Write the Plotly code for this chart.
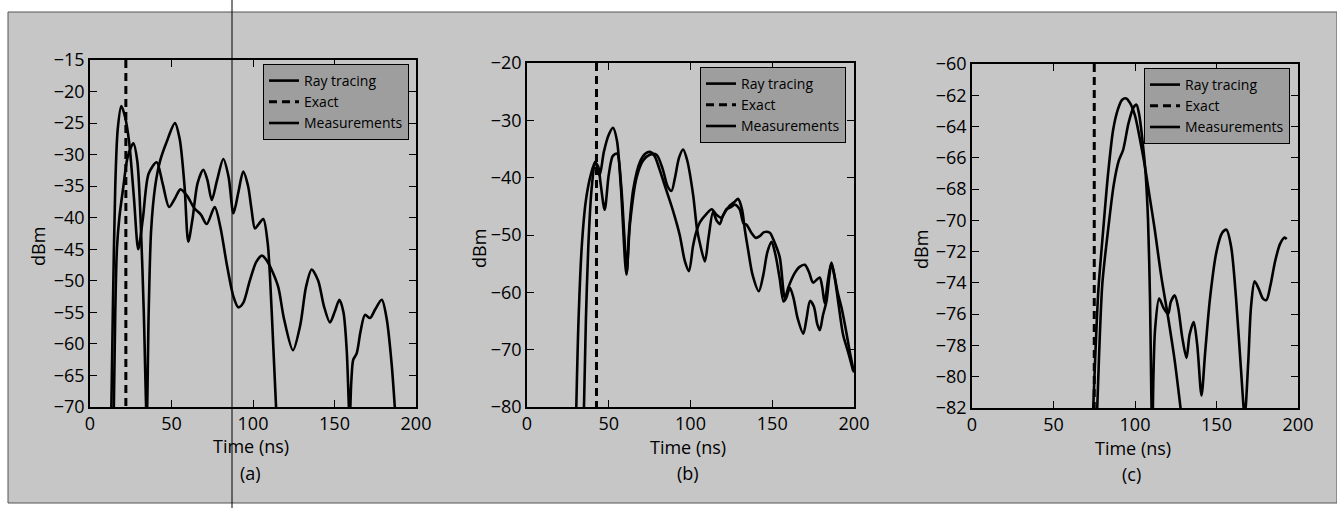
import plotly.graph_objects as go

# ---------------- data ----------------
# Panel (a)
a_ray_t = [13.0, 14.0, 15.5, 17.0, 19.2, 21.5, 24.0, 27.0, 29.6, 32.5, 36.0, 40.9, 44.5, 48.5, 52.0,
           55.5, 59.5, 64.0, 68.0, 71.6, 76.5, 80.0, 84.0, 88.0, 91.0, 94.0, 98.0, 102.0, 105.5, 108.5,
           111.5, 115.5, 119.0, 124.5, 129.0, 132.5, 136.0, 140.0, 143.5, 147.2, 150.0, 153.0, 155.5,
           157.5, 159.3, 160.3, 161.5, 163.6, 166.0, 168.7, 171.8, 175.0, 179.0, 182.0, 185.0, 187.5]
a_ray_v = [-72, -55, -35, -26, -22.3, -24, -28, -37, -45, -40, -33, -31.2, -34.5, -38.3, -37,
           -35.5, -36.5, -38.5, -39.5, -41, -38.3, -41.5, -47.5, -52.5, -54.2, -53.5, -50, -47, -46, -46.8,
           -48.3, -51, -56, -61, -57, -51, -48.2, -50, -54, -56.6, -55, -53, -55,
           -61, -72, -66, -62.5, -61.5, -58, -55.4, -55.9, -54.5, -53, -56, -63, -72]
a_meas_t = [14.5, 15.5, 16.5, 18.0, 20.5, 23.0, 26.6, 29.0, 31.0, 33.0, 34.8, 36.0, 37.5, 40.0, 43.0,
            47.0, 52.1, 55.0, 58.0, 60.3, 63.0, 66.0, 69.5, 72.0, 74.7, 78.0, 81.8, 85.0, 88.0, 91.0,
            94.0, 97.0, 99.0, 101.2, 103.5, 106.3, 109.0, 111.5, 114.5]
a_meas_v = [-72, -55, -45, -40, -35, -30.5, -28.2, -31, -40, -55, -72, -55, -42, -35, -31,
            -28, -25, -27.5, -35, -43.8, -40, -34.5, -32.4, -34, -37.2, -34, -30.7, -33.5, -39.3, -36,
            -32.7, -35, -38.5, -41.7, -41, -40.2, -44, -55, -72]
a_exact = 22

# Panel (b)
b_ray_t = [30.0, 31.5, 33.5, 36.0, 39.0, 41.8, 44.4, 47.0, 50.0, 52.6, 55.0, 57.5, 60.8, 63.0, 67.0,
           71.0, 75.0, 79.2, 83.0, 86.0, 88.4, 90.5, 93.0, 95.5, 98.0, 101.6, 104.0, 105.7, 108.8, 111.0,
           113.8, 116.0, 117.9, 120.0, 124.0, 127.0, 129.1, 131.5, 133.2, 135.3, 138.0, 141.8, 144.5,
           147.0, 149.6, 152.0, 154.5, 156.9, 158.5, 160.8, 163.0, 165.5, 169.0, 171.0, 173.1, 175.5,
           177.5, 179.1, 181.0, 183.2, 185.0, 186.2, 188.0, 190.0, 192.4, 195.0, 197.5, 200.0]
b_ray_v = [-82, -65, -52, -44, -39.5, -37.2, -39.6, -35.5, -32.5, -31.3, -33.5, -42, -56.9, -48, -40,
           -37, -36, -36, -38.5, -41.5, -42.3, -40, -36.5, -35.1, -37, -43, -49, -51.4, -54.6, -50.5,
           -46, -47.5, -48.1, -46.5, -44.9, -44.2, -43.7, -45.5, -49, -52.7, -57, -59.8, -57,
           -53, -51.2, -53.5, -57.5, -61.6, -61, -59.2, -61, -64.5, -67.2, -64.5, -61.5, -62.5,
           -65.5, -66.6, -64, -61.5, -57, -55, -57, -60, -62.7, -66.5, -70.5, -74]
b_meas_t = [34.7, 36.0, 37.5, 39.5, 41.8, 43.5, 45.0, 47.5, 50.0, 52.5, 55.1, 57.5, 59.5, 61.0, 62.5,
            65.0, 69.0, 72.5, 75.1, 78.0, 81.0, 85.0, 89.0, 93.4, 96.5, 99.1, 101.5, 103.5, 105.7, 109.8,
            113.0, 116.0, 119.0, 122.0, 124.5, 127.1, 130.0, 132.5, 134.3, 137.0, 140.0, 142.4, 145.0,
            148.5, 151.0, 154.6, 157.7, 160.0, 163.8, 166.5, 169.9, 172.5, 175.0, 179.0, 180.5, 182.1,
            184.0, 186.2, 188.5, 190.5, 193.4, 196.5, 199.5]
b_meas_v = [-82, -65, -52, -42, -37.5, -38, -41, -45.6, -39.5, -36.2, -35.8, -41, -50, -56.5, -49,
            -42, -37.3, -35.8, -35.5, -36.2, -38.5, -42, -45.5, -50, -54.5, -56.3, -52, -49.5, -47.8, -46.3,
            -45.5, -46.5, -47, -45.5, -45.2, -44.7, -45.5, -48, -48.2, -49.5, -50.5, -50.2, -49.5,
            -49.6, -51, -53.9, -61, -59, -56.6, -55.6, -55.2, -56.5, -58.3, -57.4, -59, -61.9,
            -58, -54.8, -58, -62, -67.5, -70.5, -73.7]
b_exact = 42.5

# Panel (c)
c_ray_t = [74.0, 75.5, 77.5, 80.5, 83.5, 86.6, 89.5, 92.0, 94.6, 97.0, 100.0, 103.0, 106.0, 109.0,
           112.0, 116.0, 120.3, 124.4, 128.5]
c_ray_v = [-83, -79, -74.5, -70.6, -67, -64.2, -62.9, -62.3, -62.2, -62.5, -63.3, -64.8, -66.5, -68.5,
           -70.5, -73.5, -76.2, -79, -82.5]
c_meas_t = [76.5, 78.0, 80.0, 83.5, 87.0, 90.0, 92.7, 96.0, 99.0, 100.9, 102.5, 104.5, 106.5, 108.0,
            109.2, 110.0, 110.6, 111.3, 112.3, 114.8, 117.5, 120.3, 122.0, 124.4, 126.5, 129.0, 131.6,
            133.5, 136.0, 138.2, 140.8, 143.0, 146.0, 150.0, 153.5, 156.1, 159.0, 162.0, 165.0, 167.3,
            169.5, 171.2, 173.4, 176.0, 178.5, 180.6, 183.0, 186.0, 189.0, 191.8, 193.0]
c_meas_v = [-83, -78.5, -74, -70.6, -67.7, -66.2, -65.5, -63.8, -62.8, -62.6, -63.2, -64.8, -67, -70,
            -75, -81, -84, -80, -77, -75, -75.6, -76, -75.2, -74.8, -75.6, -77.5, -78.8,
            -77.3, -76.5, -78, -81.2, -78.5, -75, -72, -70.8, -70.6, -71.7, -75, -79.5, -82.5,
            -79, -75.5, -73.9, -74.4, -75.0, -75.1, -74.2, -72.6, -71.5, -71.1, -71.2]
c_exact = 75

y_ranges = [(-70, -15), (-80, -20), (-82, -60)]
y_dticks = [5, 10, 2]
x_ticks = [0, 50, 100, 150, 200]
panel_labels = ["(a)", "(b)", "(c)"]
x_title = "Time (ns)"
y_title = "dBm"

# ---------------- styling / layout ----------------
W, H = 1337, 508
FONT = "Open Sans"
BG = "#c6c6c6"
PLOT_BG = "#c0c0c0"
LEG_BG = "#9e9e9e"

# pixel boxes of the plot areas (left, right, top, bottom)
boxes = [(90, 416, 60, 407), (527, 854, 63, 407), (972, 1298, 64, 408)]
legend_tr = [(409, 64), (846, 67), (1290, 68)]
# pixel centres of the texts under / beside each panel
ytitle_pos = [(38, 247), (479, 248), (921, 250)]
xtitle_pos = [(251, 446), (688, 447), (1133, 448)]
plabel_pos = [(250, 473), (688, 473), (1131, 474)]

panels = [
    (a_ray_t, a_ray_v, a_meas_t, a_meas_v, a_exact),
    (b_ray_t, b_ray_v, b_meas_t, b_meas_v, b_exact),
    (c_ray_t, c_ray_v, c_meas_t, c_meas_v, c_exact),
]

fig = go.Figure()
line_style = dict(color="black", width=2.6, shape="spline", smoothing=0.8)

for i, (rt, rv, mt, mv, ex) in enumerate(panels):
    n = "" if i == 0 else str(i + 1)
    leg = "legend" if i == 0 else f"legend{i + 1}"
    lo, hi = y_ranges[i]
    fig.add_trace(go.Scatter(x=rt, y=rv, mode="lines", name="Ray tracing", line=line_style,
                             xaxis="x" + n, yaxis="y" + n, legend=leg))
    fig.add_trace(go.Scatter(x=[ex, ex], y=[hi, lo], mode="lines", name="Exact",
                             line=dict(color="black", width=3, dash="8px,5px"),
                             xaxis="x" + n, yaxis="y" + n, legend=leg))
    fig.add_trace(go.Scatter(x=mt, y=mv, mode="lines", name="Measurements", line=line_style,
                             xaxis="x" + n, yaxis="y" + n, legend=leg))

layout = dict(
    width=W, height=H,
    margin=dict(l=0, r=0, t=0, b=0, autoexpand=False),
    paper_bgcolor="white",
    plot_bgcolor=PLOT_BG,
    font=dict(family=FONT, size=18, color="black"),
    showlegend=True,
)

axis_common = dict(showline=True, linecolor="black", linewidth=1.5, mirror="ticks",
                   ticks="inside", ticklen=7, tickwidth=1.2, tickcolor="black",
                   showgrid=False, zeroline=False, automargin=False,
                   tickfont=dict(family=FONT, size=18, color="black"))


def txt(text, px, py, angle=0):
    return dict(text=text, x=px / W, y=1 - py / H, xref="paper", yref="paper",
                xanchor="center", yanchor="middle", showarrow=False, textangle=angle,
                font=dict(family=FONT, size=18, color="black"))


annotations = []
for i, (l, r, t, b) in enumerate(boxes):
    n = "" if i == 0 else str(i + 1)
    lo, hi = y_ranges[i]
    layout["xaxis" + n] = dict(axis_common, domain=[l / W, r / W], range=[0, 200],
                               tickvals=x_ticks, anchor="y" + n)
    layout["yaxis" + n] = dict(axis_common, domain=[1 - b / H, 1 - t / H], range=[lo, hi],
                               dtick=y_dticks[i], tick0=lo, anchor="x" + n)
    lx, ly = legend_tr[i]
    key = "legend" if i == 0 else f"legend{i + 1}"
    layout[key] = dict(x=lx / W, y=1 - ly / H, xanchor="right", yanchor="top",
                       bgcolor=LEG_BG, bordercolor="black", borderwidth=1,
                       font=dict(family=FONT, size=14, color="black"),
                       itemwidth=30, tracegroupgap=0)
    annotations.append(txt(y_title, *ytitle_pos[i], angle=-90))
    annotations.append(txt(x_title, *xtitle_pos[i]))
    annotations.append(txt(panel_labels[i], *plabel_pos[i]))

layout["annotations"] = annotations
layout["shapes"] = [
    dict(type="rect", xref="paper", yref="paper", x0=8 / W, x1=1.0, y0=1 - 503 / H, y1=1 - 12 / H,
         fillcolor=BG, line=dict(color="#555555", width=1), layer="below"),
    dict(type="line", xref="paper", yref="paper", x0=232 / W, x1=232 / W, y0=0, y1=1,
         line=dict(color="black", width=1), layer="above"),
]

fig.update_layout(**layout)
fig.write_html("out.html", config={"displayModeBar": False},
               post_script="document.body.style.margin='0px';document.body.style.overflow='hidden';")
